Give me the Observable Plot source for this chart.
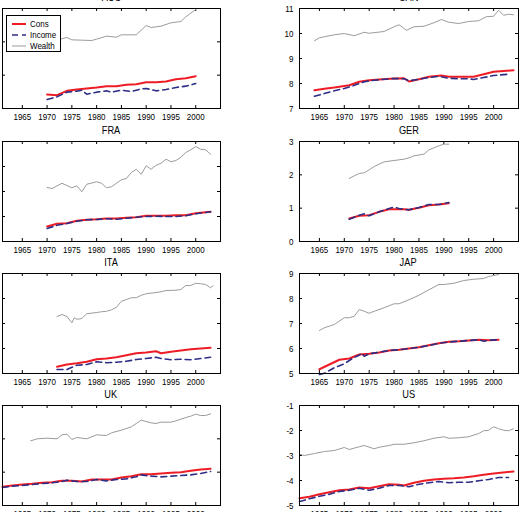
<!DOCTYPE html>
<html>
<head>
<meta charset="utf-8">
<script src="https://cdn.jsdelivr.net/npm/d3@7"></script>
<script src="https://cdn.jsdelivr.net/npm/@observablehq/plot@0.6"></script>
<style>
  html, body { margin: 0; padding: 0; background: #fff; }
  #root { position: relative; width: 522px; height: 512px; overflow: hidden; background: #fff;
          font-family: "Liberation Sans Narrow", "Arial Narrow", "Liberation Sans", Arial, sans-serif; }
  .panel { position: absolute; }
  .ttl { position: absolute; font-size: 11px; text-align: center; width: 120px; line-height: 12px; color: #000; }
  .ttl span { display: inline-block; transform: scaleX(0.84); transform-origin: center; }
  .legend { position: absolute; border: 1px solid #000; background: #fff; font-size: 9.5px; box-sizing: border-box; }
  .legend .row { display: flex; align-items: center; height: 11px; }
  .legend svg { margin: 0 4px 0 5px; flex: none; }
  .legend span { display: inline-block; transform: scaleX(0.84); transform-origin: left center; white-space: nowrap; }
</style>
</head>
<body>
<div id="root"></div>
<script>
// ---- data (year, value) ----
const xTicks = [1965, 1970, 1975, 1980, 1985, 1990, 1995, 2000];
const seriesNames = ["Cons", "Income", "Wealth"];

// AUS (axis labels not visible; arbitrary units, ticks 0..3)
const ausCons = [[1970,0.42],[1972,0.40],[1974,0.53],[1976,0.57],[1978,0.60],[1980,0.63],[1982,0.67],[1984,0.67],[1986,0.71],[1988,0.73],[1990,0.79],[1992,0.79],[1994,0.81],[1996,0.88],[1998,0.91],[2000,0.97]];
const ausIncome = [[1970,0.27],[1972,0.35],[1974,0.49],[1976,0.52],[1977,0.55],[1978,0.43],[1980,0.49],[1982,0.53],[1983,0.49],[1985,0.55],[1987,0.51],[1989,0.59],[1990,0.60],[1992,0.53],[1994,0.57],[1996,0.63],[1998,0.67],[2000,0.75]];
const ausWealth = [[1970,2.02],[1972,2.06],[1974,2.13],[1975,2.06],[1977,2.05],[1979,2.04],[1980,2.08],[1982,2.17],[1984,2.14],[1985,2.21],[1988,2.21],[1990,2.49],[1991,2.43],[1993,2.47],[1995,2.57],[1997,2.61],[1998,2.75],[2000,2.97]];

// CAN
const canCons = [[1964,7.73],[1966,7.79],[1968,7.84],[1971,7.93],[1973,8.07],[1975,8.13],[1977,8.16],[1980,8.20],[1982,8.21],[1983,8.08],[1985,8.17],[1987,8.27],[1989.5,8.32],[1991,8.27],[1993,8.27],[1996,8.27],[1998,8.37],[2000,8.47],[2004,8.53]];
const canIncome = [[1964,7.49],[1966,7.60],[1968,7.71],[1970,7.80],[1972,7.93],[1974,8.07],[1976,8.13],[1978,8.17],[1980,8.20],[1982,8.19],[1983,8.11],[1985,8.17],[1987,8.24],[1989,8.29],[1991,8.21],[1993,8.19],[1995,8.19],[1996,8.16],[1998,8.24],[2000,8.32],[2003,8.37]];
const canWealth = [[1964,9.71],[1965,9.83],[1966,9.87],[1968,9.95],[1970,10.00],[1972,9.91],[1974,10.05],[1975,10.01],[1978,10.08],[1980,10.27],[1981,10.35],[1982.5,10.13],[1984,10.27],[1986,10.29],[1988,10.43],[1989.5,10.56],[1991,10.45],[1993,10.40],[1995,10.48],[1997,10.51],[1998.5,10.67],[2000,10.69],[2001,10.93],[2002,10.73],[2003,10.77],[2004,10.75]];

// FRA (arbitrary units, ticks 0..4)
const fraCons = [[1970,0.60],[1972,0.71],[1974,0.73],[1976,0.83],[1978,0.87],[1980,0.89],[1982,0.92],[1984,0.92],[1986,0.95],[1988,0.97],[1990,1.03],[1992,1.03],[1994,1.03],[1996,1.05],[1998,1.05],[2000,1.13],[2003,1.19]];
const fraIncome = [[1970,0.52],[1972,0.65],[1974,0.72],[1976,0.81],[1978,0.87],[1980,0.88],[1982,0.91],[1984,0.89],[1986,0.93],[1988,0.97],[1990,1.00],[1992,1.01],[1994,1.00],[1996,1.00],[1998,1.03],[2000,1.11],[2003,1.19]];
const fraWealth = [[1970,2.16],[1971,2.12],[1973,2.33],[1975,2.15],[1976,2.23],[1977,1.99],[1978,2.29],[1980,2.39],[1981,2.33],[1982,2.15],[1983,2.19],[1985,2.47],[1986,2.52],[1987,2.76],[1988,2.89],[1989,2.69],[1990,3.03],[1991,2.89],[1992,3.05],[1993,3.13],[1994,3.29],[1995,3.19],[1996,3.24],[1997,3.37],[1998,3.56],[1999,3.67],[2000,3.80],[2001,3.69],[2002,3.67],[2003,3.49]];

// GER
const gerCons = [[1971,0.69],[1973,0.77],[1975,0.79],[1977,0.89],[1979,0.97],[1980,0.97],[1982,0.97],[1983,0.95],[1985,1.01],[1987,1.09],[1989,1.11],[1991,1.15]];
const gerIncome = [[1971,0.67],[1973,0.79],[1974,0.83],[1975,0.77],[1977,0.89],[1979,0.99],[1980,1.03],[1981,0.99],[1983,0.95],[1985,1.02],[1987,1.11],[1989,1.11],[1991,1.17]];
const gerWealth = [[1971,1.89],[1972,1.97],[1973,2.04],[1974,2.06],[1975,2.15],[1976,2.25],[1977,2.32],[1978,2.39],[1980,2.43],[1982,2.47],[1983,2.51],[1984,2.57],[1986,2.62],[1987,2.75],[1988,2.81],[1989,2.87],[1990,2.92],[1991,2.92]];

// ITA (arbitrary units, ticks 0..4)
const itaCons = [[1972,0.27],[1974,0.36],[1976,0.41],[1978,0.47],[1980,0.57],[1982,0.60],[1984,0.65],[1986,0.73],[1988,0.81],[1990,0.84],[1992,0.89],[1993,0.81],[1995,0.87],[1997,0.92],[1999,0.97],[2001,1.00],[2003,1.03]];
const itaIncome = [[1972,0.16],[1974,0.16],[1976,0.33],[1978,0.36],[1980,0.47],[1982,0.43],[1984,0.45],[1986,0.49],[1988,0.56],[1990,0.60],[1992,0.65],[1993,0.60],[1995,0.55],[1997,0.57],[1999,0.55],[2001,0.60],[2003,0.65]];
const itaWealth = [[1972,2.28],[1973,2.36],[1974,2.28],[1975,2.03],[1975.5,2.23],[1976,2.17],[1977,2.20],[1978,2.39],[1980,2.44],[1981,2.47],[1982,2.49],[1983,2.55],[1984,2.65],[1985,2.89],[1986,2.96],[1987,3.03],[1988,3.03],[1989,3.13],[1990,3.19],[1992,3.24],[1993,3.27],[1994,3.32],[1996,3.33],[1997,3.36],[1998,3.52],[1999,3.52],[2000,3.61],[2001,3.59],[2002,3.56],[2003,3.43],[2003.5,3.51]];

// JAP
const japCons = [[1965,5.17],[1967,5.36],[1969,5.55],[1971,5.60],[1973,5.76],[1975,5.79],[1977,5.84],[1979,5.92],[1981,5.95],[1983,6.00],[1985,6.05],[1987,6.13],[1989,6.21],[1991,6.27],[1993,6.29],[1995,6.32],[1997,6.35],[1999,6.33],[2001,6.35]];
const japIncome = [[1965,4.96],[1966,5.01],[1967,5.12],[1968,5.23],[1970,5.39],[1971,5.52],[1972,5.65],[1973,5.73],[1973.5,5.82],[1974,5.69],[1975,5.79],[1977,5.85],[1979,5.92],[1981,5.95],[1983,6.00],[1985,6.05],[1987,6.12],[1989,6.21],[1991,6.26],[1993,6.29],[1995,6.32],[1997,6.35],[1998,6.29],[1999,6.33],[2001,6.35]];
const japWealth = [[1965,6.72],[1966,6.83],[1968,6.96],[1970,7.23],[1971,7.23],[1972,7.29],[1973,7.56],[1974,7.49],[1975,7.41],[1976,7.49],[1978,7.63],[1980,7.79],[1981,7.79],[1983,7.95],[1985,8.13],[1987,8.35],[1989,8.56],[1990,8.56],[1992,8.61],[1994,8.72],[1996,8.77],[1998,8.80],[1999,8.88],[2001,8.96]];

// UK (arbitrary units, ticks 0..3)
const ukCons = [[1961,0.56],[1963,0.60],[1965,0.63],[1967,0.65],[1969,0.68],[1971,0.70],[1973,0.74],[1975,0.74],[1977,0.72],[1979,0.78],[1981,0.78],[1983,0.78],[1985,0.84],[1987,0.88],[1989,0.94],[1991,0.94],[1993,0.96],[1995,0.98],[1997,1.00],[1999,1.04],[2001,1.08],[2003,1.10]];
const ukIncome = [[1961,0.54],[1963,0.58],[1965,0.60],[1967,0.63],[1969,0.66],[1971,0.68],[1973,0.72],[1974,0.76],[1976,0.72],[1978,0.72],[1980,0.78],[1982,0.74],[1984,0.78],[1986,0.80],[1988,0.86],[1989,0.92],[1991,0.88],[1993,0.86],[1995,0.88],[1997,0.90],[1999,0.92],[2001,0.96],[2003,1.02]];
const ukWealth = [[1966.7,1.94],[1968,2.00],[1970,2.02],[1972,2.00],[1973,2.12],[1974,2.14],[1975,1.98],[1976,2.04],[1978,2.00],[1980,2.12],[1982,2.10],[1983,2.18],[1985,2.26],[1987,2.36],[1988,2.46],[1989,2.56],[1991,2.48],[1992,2.46],[1993,2.50],[1995,2.50],[1996,2.54],[1998,2.64],[1999,2.68],[2000,2.74],[2001,2.70],[2002,2.70],[2003,2.75]];

// US
const usCons = [[1961,-4.71],[1963,-4.65],[1965,-4.55],[1967,-4.47],[1969,-4.39],[1971,-4.36],[1973,-4.28],[1975,-4.31],[1977,-4.23],[1979,-4.15],[1981,-4.17],[1982,-4.20],[1984,-4.09],[1986,-4.01],[1988,-3.96],[1990,-3.93],[1992,-3.91],[1994,-3.88],[1996,-3.83],[1998,-3.77],[2000,-3.72],[2004,-3.64]];
const usIncome = [[1961,-4.84],[1963,-4.73],[1965,-4.63],[1967,-4.55],[1969,-4.44],[1971,-4.39],[1973,-4.31],[1975,-4.39],[1977,-4.31],[1979,-4.20],[1981,-4.20],[1983,-4.25],[1985,-4.15],[1987,-4.09],[1989,-4.04],[1991,-4.09],[1993,-4.07],[1995,-4.07],[1997,-4.01],[1999,-3.96],[2001,-3.88],[2003,-3.88]];
const usWealth = [[1961,-2.95],[1962,-3.00],[1964,-2.92],[1966,-2.84],[1968,-2.80],[1970,-2.68],[1971,-2.76],[1973,-2.65],[1974,-2.60],[1976,-2.73],[1977,-2.67],[1979,-2.60],[1980,-2.55],[1982,-2.55],[1984,-2.49],[1986,-2.41],[1988,-2.31],[1990,-2.25],[1991,-2.31],[1993,-2.29],[1995,-2.25],[1997,-2.12],[1998,-2.01],[1999,-1.99],[2000,-1.85],[2001,-1.93],[2002,-1.99],[2003,-2.01],[2004,-1.93]];

// panel definitions: [title, cons, income, wealth, y domain, y ticks, column, row]
const panels = [
  ["AUS", ausCons, ausIncome, ausWealth, [0, 3], [0, 1, 2, 3], 0, 0],
  ["CAN", canCons, canIncome, canWealth, [7, 11], [7, 8, 9, 10, 11], 1, 0],
  ["FRA", fraCons, fraIncome, fraWealth, [0, 4], [0, 1, 2, 3, 4], 0, 1],
  ["GER", gerCons, gerIncome, gerWealth, [0, 3], [0, 1, 2, 3], 1, 1],
  ["ITA", itaCons, itaIncome, itaWealth, [0, 4], [0, 1, 2, 3, 4], 0, 2],
  ["JAP", japCons, japIncome, japWealth, [5, 9], [5, 6, 7, 8, 9], 1, 2],
  ["UK",  ukCons, ukIncome, ukWealth, [0, 3], [0, 1, 2, 3], 0, 3],
  ["US",  usCons, usIncome, usWealth, [-5, -1], [-5, -4, -3, -2, -1], 1, 3]
];

const colors = { Cons: "#ee1c25", Income: "#2e2e86", Wealth: "#9b9b9b" };

const root = document.getElementById("root");
const rowTops = [8.3, 140.7, 273, 405.3];
const FH = 100, MT = 2, MB = 20;
const FONT = '"Liberation Sans Narrow", "Arial Narrow", "Liberation Sans", Arial, sans-serif';

for (const [title, cons, income, wealth, yDomain, yTicks, col, row] of panels) {
  const showY = col === 1;
  const ml = showY ? 29 : 2;
  const mr = showY ? 3 : 2;
  const W = showY ? 251 : 222;
  const FW = W - ml - mr;
  const plot = Plot.plot({
    width: W, height: FH + MT + MB,
    marginTop: MT, marginBottom: MB, marginLeft: ml, marginRight: mr,
    x: { domain: [1961, 2005] },
    y: { domain: yDomain },
    style: { fontFamily: FONT, fontSize: "9.5px", color: "#000", background: "transparent", overflow: "visible" },
    marks: [
      Plot.axisX({ ticks: xTicks, tickSize: 0, tickPadding: 5, tickFormat: d => String(d), fontSize: 9.5 }),
      showY ? Plot.axisY({ ticks: yTicks, tickSize: 0, tickPadding: 6, tickFormat: d => String(d), fontSize: 9.5 }) : Plot.axisY({ ticks: [], label: null }),
      Plot.ruleX(xTicks, { x: d => d, insetTop: FH - 3, stroke: "#000", strokeWidth: 1 }),
      Plot.ruleX(xTicks, { x: d => d, insetBottom: FH - 3, stroke: "#000", strokeWidth: 1 }),
      Plot.ruleY(yTicks, { y: d => d, insetRight: FW - 3, stroke: "#000", strokeWidth: 1 }),
      Plot.ruleY(yTicks, { y: d => d, insetLeft: FW - 3, stroke: "#000", strokeWidth: 1 }),
      Plot.line(cons, { x: d => d[0], y: d => d[1], stroke: colors.Cons, strokeWidth: 2 }),
      Plot.line(income, { x: d => d[0], y: d => d[1], stroke: colors.Income, strokeWidth: 1.6, strokeDasharray: "6,4" }),
      Plot.line(wealth, { x: d => d[0], y: d => d[1], stroke: colors.Wealth, strokeWidth: 1 }),
      Plot.frame({ stroke: "#000", strokeWidth: 1 })
    ]
  });
  const left = showY ? 270 : 0;
  const top = rowTops[row] - MT;
  plot.classList.add("panel");
  plot.style.left = left + "px";
  plot.style.top = top + "px";
  root.appendChild(plot);
  // condense tick labels horizontally (narrow sans look of the reference)
  plot.querySelectorAll("text").forEach(t => {
    const w = t.getComputedTextLength();
    if (w > 0) {
      t.setAttribute("textLength", (w * 0.84).toFixed(2));
      t.setAttribute("lengthAdjust", "spacingAndGlyphs");
    }
  });

  const t = document.createElement("div");
  t.className = "ttl";
  t.innerHTML = `<span>${title}</span>`;
  t.style.left = (left + ml + FW / 2 - 60) + "px";
  t.style.top = (rowTops[row] - 17) + "px";
  root.appendChild(t);

  if (title === "AUS") {
    const lg = document.createElement("div");
    lg.className = "legend";
    lg.style.left = "6px";
    lg.style.top = "15px";
    lg.style.width = "55px";
    lg.style.height = "37px";
    lg.style.padding = "2px 0";
    for (const name of seriesNames) {
      const r = document.createElement("div");
      r.className = "row";
      const dash = name === "Income" ? 'stroke-dasharray="6,4"' : "";
      const sw = name === "Cons" ? 2 : (name === "Income" ? 1.6 : 1);
      r.innerHTML = `<svg width="14" height="6"><line x1="0" x2="14" y1="3" y2="3" stroke="${colors[name]}" stroke-width="${sw}" ${dash}/></svg><span>${name}</span>`;
      lg.appendChild(r);
    }
    root.appendChild(lg);
  }
}
</script>
</body>
</html>
